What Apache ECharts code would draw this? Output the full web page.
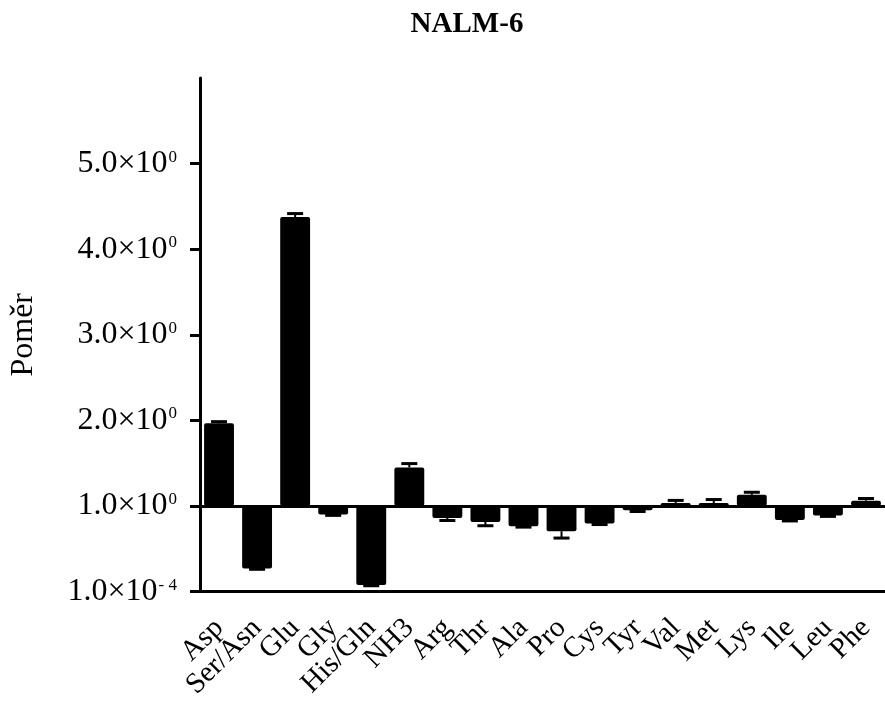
<!DOCTYPE html>
<html>
<head>
<meta charset="utf-8">
<script src="https://cdn.jsdelivr.net/npm/echarts@6/dist/echarts.min.js"></script>
<style>
  html, body { margin: 0; padding: 0; background: #fff; }
  #chart { width: 885px; height: 702px; }
</style>
</head>
<body>
<div id="chart"></div>
<script>
// Amino acid ratios for NALM-6 (bars drawn from the 1.0 reference line)
const categories = ['Asp', 'Ser/Asn', 'Glu', 'Gly', 'His/Gln', 'NH3', 'Arg', 'Thr', 'Ala',
                    'Pro', 'Cys', 'Tyr', 'Val', 'Met', 'Lys', 'Ile', 'Leu', 'Phe'];
const ratios = [1.965, 0.27, 4.376, 0.90, 0.078, 1.45, 0.86, 0.814, 0.763,
                0.705, 0.795, 0.95, 1.035, 1.035, 1.13, 0.835, 0.888, 1.062];
const errors = [0.02, 0.01, 0.04, 0.01, 0.01, 0.045, 0.03, 0.045, 0.01,
                0.08, 0.012, 0.015, 0.03, 0.04, 0.03, 0.01, 0.01, 0.025];
const baseline = 1;
const yTickValues = [0.0001, 1, 2, 3, 4, 5];
const yTickLabels = [['1.0×10', '- 4'], ['1.0×10', '0'], ['2.0×10', '0'],
                     ['3.0×10', '0'], ['4.0×10', '0'], ['5.0×10', '0']];

const font = '"Liberation Serif", "Times New Roman", serif';
const chart = echarts.init(document.getElementById('chart'));

function renderBar(params, api) {
  const idx = api.value(0);
  const v = api.value(1);
  const e = api.value(2);
  const band = api.size([1, 0])[0];
  const w = band * 0.785;
  const capW = 16;
  const p0 = api.coord([idx, baseline]);
  const p1 = api.coord([idx, v]);
  const dir = v >= baseline ? 1 : -1;
  const p2 = api.coord([idx, v + dir * e]);
  return {
    type: 'group',
    children: [
      {
        type: 'rect',
        shape: { x: p0[0] - w / 2, y: Math.min(p0[1], p1[1]), width: w, height: Math.abs(p1[1] - p0[1]), r: 2 },
        style: { fill: '#000' }
      },
      {
        type: 'line',
        shape: { x1: p1[0], y1: p1[1], x2: p2[0], y2: p2[1] },
        style: { stroke: '#000', lineWidth: 2 }
      },
      {
        type: 'line',
        shape: { x1: p2[0] - capW / 2, y1: p2[1], x2: p2[0] + capW / 2, y2: p2[1] },
        style: { stroke: '#000', lineWidth: 3 }
      }
    ]
  };
}

chart.setOption({
  animation: false,
  backgroundColor: '#fff',
  title: {
    text: 'NALM-6',
    left: 462,
    top: 5,
    textAlign: 'center',
    textStyle: { fontFamily: font, fontWeight: 'bold', fontSize: 29, color: '#000' }
  },
  grid: { left: 200, top: 78, width: 689, height: 515, containLabel: false },
  xAxis: {
    type: 'category',
    data: categories,
    boundaryGap: true,
    axisLine: { onZero: false, lineStyle: { color: '#000', width: 3 } },
    axisTick: { alignWithLabel: true, length: 10, lineStyle: { color: '#000', width: 3 } },
    axisLabel: {
      interval: 0, rotate: 45, margin: 32,
      fontFamily: font, fontSize: 29, color: '#000'
    },
    splitLine: { show: false }
  },
  yAxis: {
    type: 'value',
    min: 0.0001,
    max: 6,
    name: 'Poměr',
    nameLocation: 'middle',
    nameRotate: 90,
    nameGap: 160,
    nameTextStyle: { fontFamily: font, fontSize: 32, color: '#000' },
    axisLine: { show: true, lineStyle: { color: '#000', width: 3 } },
    axisTick: { show: true, length: 10, customValues: yTickValues, lineStyle: { color: '#000', width: 3 } },
    axisLabel: {
      customValues: yTickValues,
      margin: 23,
      formatter: function (val) {
        const i = yTickValues.indexOf(val);
        if (i < 0) return '';
        return '{m|' + yTickLabels[i][0] + '}{s|' + yTickLabels[i][1] + '}';
      },
      rich: {
        m: { fontFamily: font, fontSize: 32, color: '#000', lineHeight: 30 },
        s: { fontFamily: font, fontSize: 17, color: '#000', lineHeight: 18, verticalAlign: 'top', padding: [0, 0, 0, 1] }
      }
    },
    splitLine: { show: false }
  },
  series: [
    {
      type: 'custom',
      renderItem: renderBar,
      encode: { x: 0, y: 1 },
      data: categories.map((c, i) => [i, ratios[i], errors[i]]),
      markLine: {
        silent: true,
        symbol: 'none',
        label: { show: false },
        lineStyle: { color: '#000', width: 3, type: 'solid' },
        data: [{ yAxis: baseline }]
      }
    }
  ]
});
</script>
</body>
</html>
